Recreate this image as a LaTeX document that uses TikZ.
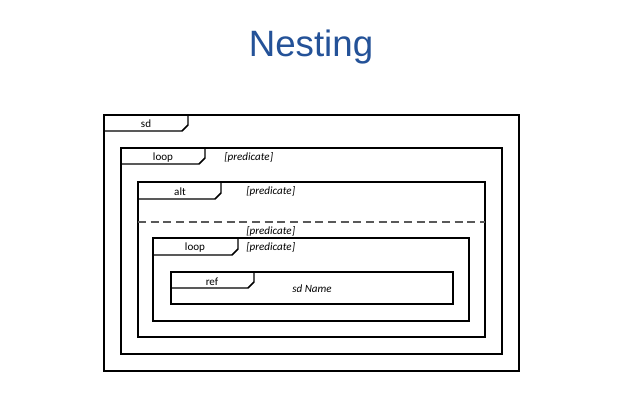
\documentclass[tikz,border=0pt]{standalone}
\usepackage{fontspec}
\setmainfont{Carlito}
\newfontfamily\titlefont{Liberation Sans}
\definecolor{titleblue}{RGB}{36,82,152}
\begin{document}
\begin{tikzpicture}[x=0.75pt, y=-0.75pt,
    frame/.style={draw=black, line width=1.1pt},
    tablabel/.style={font=\fontsize{8.3}{9}\selectfont, inner sep=0pt},
    guard/.style={font=\fontsize{8.3}{9}\selectfont\itshape, inner sep=0pt, anchor=west}]
    \useasboundingbox[fill=white] (0,0) rectangle (640,402);

    % Title
    \node[font=\titlefont\fontsize{27.5}{30}\selectfont, text=titleblue] (title) at (311,47) {Nesting};

    % Frame corners
    \coordinate (sdA) at (104,115);   \coordinate (sdB) at (519,371);
    \coordinate (loopA) at (121,148); \coordinate (loopB) at (502,354);
    \coordinate (altA) at (138,182);  \coordinate (altB) at (485,337);
    \coordinate (innA) at (153,238);  \coordinate (innB) at (469,321);
    \coordinate (refA) at (171,272);  \coordinate (refB) at (453,304);

    % Frames
    \draw[frame] (sdA) rectangle (sdB);
    \draw[frame] (loopA) rectangle (loopB);
    \draw[frame] (altA) rectangle (altB);
    \draw[frame] (innA) rectangle (innB);
    \draw[frame] (refA) rectangle (refB);

    % Tabs
    \draw[frame] (104,131) -- (182,131) -- (188,125) -- (188,115);
    \draw[frame] (121,164) -- (199,164) -- (205,158) -- (205,148);
    \draw[frame] (138,199) -- (215,199) -- (221,193) -- (221,182);
    \draw[frame] (153,255) -- (232,255) -- (238,249) -- (238,238);
    \draw[frame] (171,288) -- (248,288) -- (254,282) -- (254,272);

    % Operand separator
    \draw[frame, draw=black!65, line width=1pt, dash pattern=on 6pt off 3.5pt] (138,222) -- (485,222);

    % Tab labels
    \node[tablabel] (sdlabel) at (146,123.5) {sd};
    \node[tablabel] (looplabel) at (163,157.5) {loop};
    \node[tablabel] (altlabel) at (180,191.5) {alt};
    \node[tablabel] (innlabel) at (195,247.5) {loop};
    \node[tablabel] (reflabel) at (212,281.5) {ref};

    % Guards
    \node[guard] (loopguard) at (224,157.5) {[predicate]};
    \node[guard] (altguard) at (246,191.5) {[predicate]};
    \node[guard] (elseguard) at (246,231.5) {[predicate]};
    \node[guard] (innguard) at (246,247.5) {[predicate]};
    \node[guard, anchor=center] (refname) at (312,289) {sd Name};
\end{tikzpicture}
\end{document}
